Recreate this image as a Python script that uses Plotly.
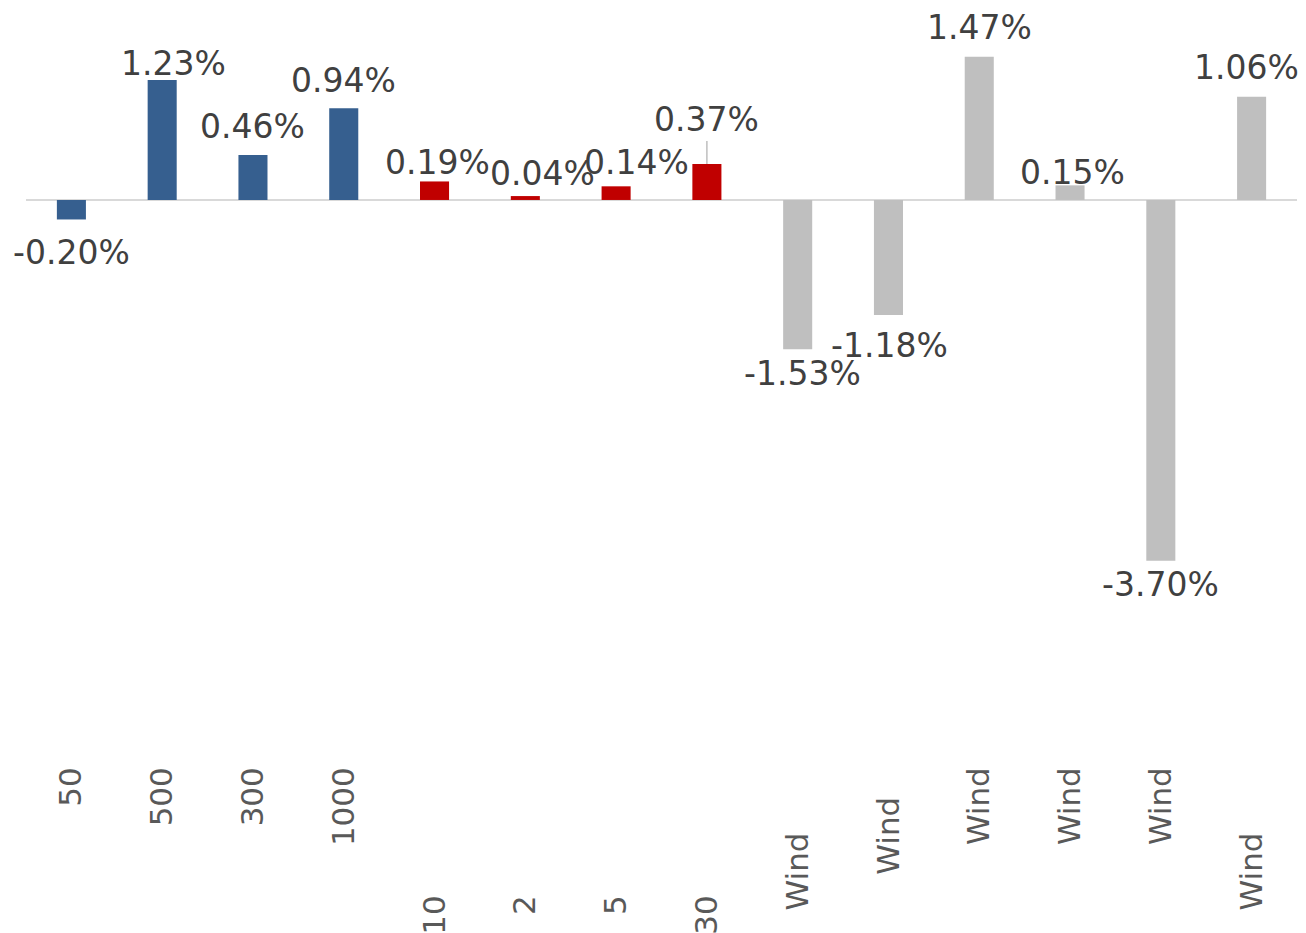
import plotly.graph_objects as go

# ---- data ----
categories = ["50", "500", "300", "1000", "10", "2", "5", "30",
              "Wind", "Wind", "Wind", "Wind", "Wind", "Wind"]
values = [-0.20, 1.23, 0.46, 0.94, 0.19, 0.04, 0.14, 0.37,
          -1.53, -1.18, 1.47, 0.15, -3.70, 1.06]
groups = ["A", "A", "A", "A", "B", "B", "B", "B",
          "C", "C", "C", "C", "C", "C"]

# ---- styling ----
group_colors = {"A": "#365F8F", "B": "#C00000", "C": "#BFBFBF"}
NB = "\u00a0"
# trailing padding to mimic staggered category labels
label_pad = ["", "", "", "", NB * 13, NB * 13, NB * 13, NB * 13,
             NB * 6 + "\u2009", NB * 3, "", "", "", NB * 6 + "\u2009"]
# data-label nudges in pixels (dx, dy: dy positive = up)
label_dx = [0, 11, 0, 0, 3, 17, 20, 0, 5, 1, 0, 2, 0, -5]
label_dy = [-33, 17, 29, 28, 19, 23, 24, 44, -24, -30, 29, 13, -24, 29]

xs = list(range(len(categories)))
colors = [group_colors[g] for g in groups]

fig = go.Figure()
fig.add_trace(go.Bar(x=xs, y=values, marker=dict(color=colors, line=dict(width=0)),
                     hoverinfo="skip"))

lab_font = dict(family="DejaVu Sans", size=33, color="#404040")
for i, v in enumerate(values):
    txt = f"{v:.2f}%"
    if i == 7:
        fig.add_annotation(x=i, y=v, text=txt, showarrow=True, arrowhead=0,
                           arrowwidth=1.5, arrowcolor="#BFBFBF", ax=label_dx[i], ay=-label_dy[i],
                           standoff=0, font=lab_font)
    else:
        fig.add_annotation(x=i, y=v, text=txt, showarrow=False, xshift=label_dx[i],
                           yshift=label_dy[i], yanchor="middle", font=lab_font)

fig.update_layout(
    width=1306, height=933,
    margin=dict(l=18, r=17, t=0, b=181),
    paper_bgcolor="white", plot_bgcolor="white",
    showlegend=False, bargap=0.68,
    xaxis=dict(range=[-0.5, len(categories) - 0.5], tickmode="array", tickvals=xs,
               ticktext=[c + p for c, p in zip(categories, label_pad)],
               tickangle=-90, showgrid=False, zeroline=False, showline=False, ticks="",
               tickfont=dict(family="DejaVu Sans", size=31, color="#595959")),
    yaxis=dict(range=[-5.744, 1.969], showgrid=False, showticklabels=False, ticks="",
               zeroline=True, zerolinecolor="#D9D9D9", zerolinewidth=2, showline=False),
)

fig.write_html("out.html")
